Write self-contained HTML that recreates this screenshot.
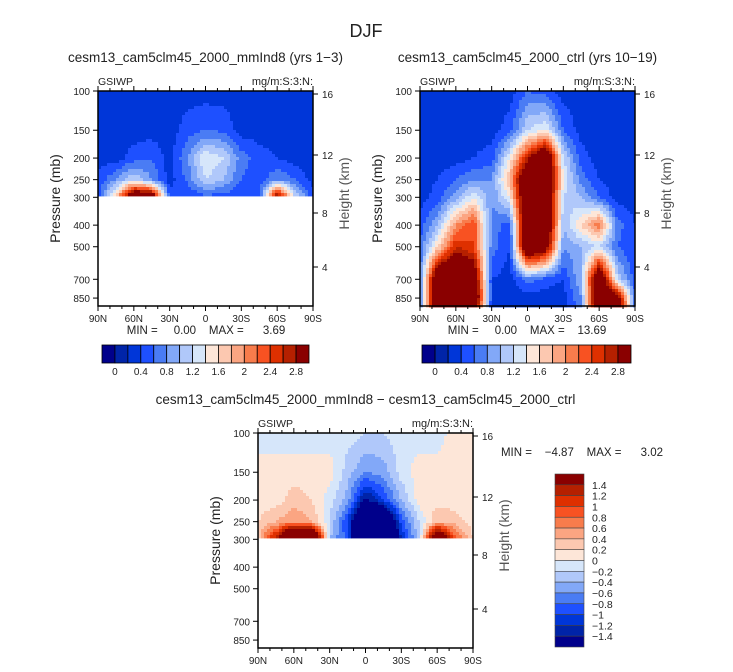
<!DOCTYPE html>
<html><head><meta charset="utf-8">
<style>
body{margin:0;background:#fff;}
svg{display:block;font-family:"Liberation Sans",sans-serif;}
.pre{white-space:pre;}
</style></head>
<body>
<svg id="chart" width="733" height="672" viewBox="0 0 733 672" xmlns="http://www.w3.org/2000/svg">
<text x="366" y="37" font-size="18" text-anchor="middle" fill="#222">DJF</text>
</svg>
<script>
// ---- data ----
const lats = [90,75,60,45,30,15,0,-15,-30,-45,-60,-75,-90];
const levels = [100,150,200,250,300,400,500,700,850,925];
const N = NaN;
const p1Values = [
 [0.1,0.1,0.1,0.1,0.1,0.1,0.1,0.1,0.1,0.1,0.1,0.1,0.1],
 [0.1,0.1,0.1,0.1,0.1,0.3,0.4,0.35,0.1,0.1,0.1,0.1,0.1],
 [0.1,0.1,0.3,0.4,0.1,0.6,1.2,1.0,0.5,0.3,0.2,0.1,0.1],
 [0.25,0.6,1.0,0.6,0.1,0.45,1.0,0.8,0.4,0.25,0.6,0.4,0.1],
 [0.3,1.5,3.5,3.3,0.3,0.2,0.3,0.3,0.2,0.3,3.0,1.0,0.3],
 [N,N,N,N,N,N,N,N,N,N,N,N,N],[N,N,N,N,N,N,N,N,N,N,N,N,N],
 [N,N,N,N,N,N,N,N,N,N,N,N,N],[N,N,N,N,N,N,N,N,N,N,N,N,N],
 [N,N,N,N,N,N,N,N,N,N,N,N,N]];
const p2Values = [
 [0.1,0.1,0.1,0.1,0.1,0.1,0.4,0.3,0.1,0.1,0.1,0.1,0.1],
 [0.1,0.1,0.1,0.1,0.1,0.3,1.0,1.2,0.4,0.1,0.1,0.1,0.1],
 [0.1,0.1,0.1,0.2,0.3,1.2,2.5,3.5,1.0,0.3,0.1,0.1,0.1],
 [0.1,0.2,0.4,0.6,0.6,1.6,3.5,3.5,1.2,0.5,0.2,0.1,0.1],
 [0.1,0.3,0.7,1.2,0.6,1.2,3.5,3.5,1.0,0.8,0.4,0.1,0.1],
 [0.3,0.8,1.8,2.2,0.5,0.3,3.5,3.5,0.8,1.4,2.0,0.5,0.2],
 [0.4,1.4,2.4,2.2,0.5,0.2,3.5,3.0,0.6,0.8,1.0,0.4,0.2],
 [0.5,3.5,3.5,3.2,0.2,0.1,0.5,0.3,0.2,0.8,3.5,1.0,0.3],
 [0.5,3.5,3.5,3.5,0.2,0.1,0.1,0.1,0.1,0.6,3.5,3.0,0.4],
 [0.5,3.5,3.5,3.0,0.2,0.1,0.1,0.1,0.1,0.5,3.5,3.0,0.5]];
const p3Values = [
 [-0.1,-0.1,-0.1,-0.1,-0.1,-0.1,-0.2,-0.2,-0.1,-0.1,-0.1,0.1,0.1],
 [0.1,0.1,0.1,0.1,0.1,-0.3,-0.6,-0.5,-0.1,0.1,0.1,0.1,0.1],
 [0.1,0.1,0.3,0.2,-0.1,-0.5,-1.5,-1.0,-0.4,0.1,0.1,0.1,0.1],
 [0.2,0.4,0.6,0.4,-0.2,-1.0,-2.5,-2.5,-0.9,-0.2,0.4,0.3,0.1],
 [0.3,1.4,3,3,-0.4,-0.9,-3,-3,-1.2,-0.3,2.5,0.9,0.2],
 [N,N,N,N,N,N,N,N,N,N,N,N,N],[N,N,N,N,N,N,N,N,N,N,N,N,N],
 [N,N,N,N,N,N,N,N,N,N,N,N,N],[N,N,N,N,N,N,N,N,N,N,N,N,N],
 [N,N,N,N,N,N,N,N,N,N,N,N,N]];
const xTickLabels = ["90N","60N","30N","0","30S","60S","90S"];
const pTickLabels = [100,150,200,250,300,400,500,700,850];
const hTickLabels = [16,12,8,4];
const topBarLabels = ["0","0.4","0.8","1.2","1.6","2","2.4","2.8"];
const diffBarLabels = ["1.4","1.2","1","0.8","0.6","0.4","0.2","0","\u22120.2","\u22120.4","\u22120.6","\u22120.8","\u22121","\u22121.2","\u22121.4"];
const colors = ["#00008b","#0024a8","#0036d8","#1e50ff","#4a7cf4","#82a8f8","#b0c8fa","#d6e6fa",
                "#fde6d8","#fcc8b0","#fba582","#f87c4c","#f85222","#de3000","#b52000","#8a0000"];

const svg = document.getElementById('chart');
const NS = "http://www.w3.org/2000/svg";
function mk(tag, attrs, parent){
  const e = document.createElementNS(NS, tag);
  for (const k in attrs) e.setAttribute(k, attrs[k]);
  (parent||svg).appendChild(e); return e;
}
function txt(x,y,s,size,anchor,parent){
  const t = mk('text',{x:x,y:y,'font-size':size,'text-anchor':anchor||'middle',fill:'#222'},parent);
  t.textContent = s; return t;
}
const PW = 215, PH = 215, DEC = 222.8;

function interp(vals, lat, p){
  let fi = (90 - lat)/15; let i0 = Math.min(Math.floor(fi), lats.length-2); let fx = fi - i0;
  const lp = Math.log10(p);
  let j0 = 0;
  while (j0 < levels.length-2 && Math.log10(levels[j0+1]) < lp) j0++;
  let fy = (lp - Math.log10(levels[j0]))/(Math.log10(levels[j0+1]) - Math.log10(levels[j0]));
  fy = Math.max(0, Math.min(1, fy));
  const a = vals[j0][i0], b = vals[j0][i0+1], c = vals[j0+1][i0], d = vals[j0+1][i0+1];
  if (isNaN(c) || isNaN(d)) { if (fy > 0.001) return NaN; }
  if (isNaN(a)||isNaN(b)) return NaN;
  const top = a*(1-fx)+b*fx;
  if (fy <= 0.001) return top;
  return top*(1-fy) + (c*(1-fx)+d*fx)*fy;
}

function panel(name, x0, y0, vals, lo, title, titleY){
  const g = mk('g',{});
  
  
  const t = txt(x0+PW/2, titleY, title, 13.5, 'middle', g);
  
  
  const xOf = lat => x0 + (90-lat)/180*PW;
  const yOf = p => y0 + DEC*Math.log10(p/100);
  const step = 3;
  const field = mk('g',{}, g);
  
  
  for (let py = 0; py < PH; py += step){
    const p = 100*Math.pow(10, (py+step/2)/DEC);
    let runStart = 0, runColor = null;
    const flush = (end) => {
      if (runColor){
        const r = mk('rect',{x:x0+runStart,y:y0+py,width:end-runStart+0.4,height:step+0.4,fill:runColor},field);
        
        
      }
    };
    for (let px = 0; px < PW; px += step){
      const lat = 90 - (px+step/2)/PW*180;
      const v = interp(vals, lat, p);
      let c = null;
      if (!isNaN(v)){ let idx = Math.floor((v-lo)/0.2)+1; idx = Math.max(0,Math.min(15,idx)); c = colors[idx]; }
      if (c !== runColor){ flush(px); runStart = px; runColor = c; }
    }
    flush(PW);
  }
  const fr = mk('rect',{x:x0,y:y0,width:PW,height:PH,fill:'none',stroke:'#000','stroke-width':1.5},g);
  
  
  for (let lat = 90; lat >= -90; lat -= 10){
    const x = xOf(lat), major = lat % 30 === 0;
    const L = major ? 5 : 3;
    mk('line',{x1:x,y1:y0+PH,x2:x,y2:y0+PH+L,stroke:'#000'},g);
    mk('line',{x1:x,y1:y0,x2:x,y2:y0-L,stroke:'#000'},g);
  }
  xTickLabels.forEach((s,i)=>{
    const l = txt(xOf(90-30*i), y0+PH+16, s, 10, 'middle', g);
    
    
  });
  pTickLabels.forEach(p=>{
    const y = yOf(p);
    mk('line',{x1:x0-5,y1:y,x2:x0,y2:y,stroke:'#000'},g);
    const l = txt(x0-8, y+4, String(p), 10, 'end', g);
    
    
  });
  const hRel = [3,64,122,176];
  hTickLabels.forEach((h,i)=>{
    const y = y0 + hRel[i];
    mk('line',{x1:x0+PW,y1:y,x2:x0+PW+5,y2:y,stroke:'#000'},g);
    const l = txt(x0+PW+9, y+4, String(h), 10, 'start', g);
    
    
  });
  const yl = txt(0,0,'Pressure (mb)',14,'middle',g);
  yl.setAttribute('transform',`translate(${x0-38},${y0+PH/2}) rotate(-90)`);
  
  
  const hl = txt(0,0,'Height (km)',14,'middle',g);
  hl.setAttribute('transform',`translate(${x0+PW+36},${y0+PH/2-5}) rotate(-90)`);
  hl.setAttribute('fill','#555');
  
  
  const v1 = txt(x0, y0-6, 'GSIWP', 10.5, 'start', g);
  
  
  const u1 = txt(x0+PW, y0-6, 'mg/m:S:3:N:', 11, 'end', g);
  
  
  return g;
}

function hbar(name, x0, y0, w, h){
  const g = mk('g',{});
  
  
  const bw = w/16;
  colors.forEach((c,i)=>{
    const r = mk('rect',{x:x0+i*bw,y:y0,width:bw,height:h,fill:c,stroke:'#000','stroke-width':0.8},g);
    
    
  });
  topBarLabels.forEach((s,i)=>{
    const l = txt(x0+(1+2*i)*bw, y0+h+12, s, 10, 'middle', g);
    
    
  });
}

panel('panel-mmind8', 98, 91, p1Values, -0.2, 'cesm13_cam5clm45_2000_mmInd8 (yrs 1\u22123)', 62);
panel('panel-ctrl', 420, 91, p2Values, -0.2, 'cesm13_cam5clm45_2000_ctrl (yrs 10\u221219)', 62);
panel('panel-diff', 258, 433, p3Values, -1.4, 'cesm13_cam5clm45_2000_mmInd8 \u2212 cesm13_cam5clm45_2000_ctrl', 404);

let s;
s = txt(206, 334, 'MIN =     0.00    MAX =      3.69', 11.5, 'middle'); s.setAttribute('class','pre');


s = txt(527, 334, 'MIN =     0.00    MAX =    13.69', 11.5, 'middle'); s.setAttribute('class','pre');


s = txt(582, 456, 'MIN =    \u22124.87    MAX =      3.02', 11.5, 'middle'); s.setAttribute('class','pre');



hbar('colorbar-mmind8', 102, 345, 207, 18);
hbar('colorbar-ctrl', 422, 345, 209, 18);

(function(){
  const g = mk('g',{});
  
  
  const x0 = 555, y0 = 474, w = 29, h = 173, bh = h/16;
  colors.slice().reverse().forEach((c,i)=>{
    const r = mk('rect',{x:x0,y:y0+i*bh,width:w,height:bh,fill:c,stroke:'#444','stroke-width':0.6},g);
    
    
  });
  diffBarLabels.forEach((sv,i)=>{
    const l = txt(x0+w+8, y0+(i+1)*bh+4, sv, 10.5, 'start', g);
    
    
  });
})();
</script>
</body></html>
